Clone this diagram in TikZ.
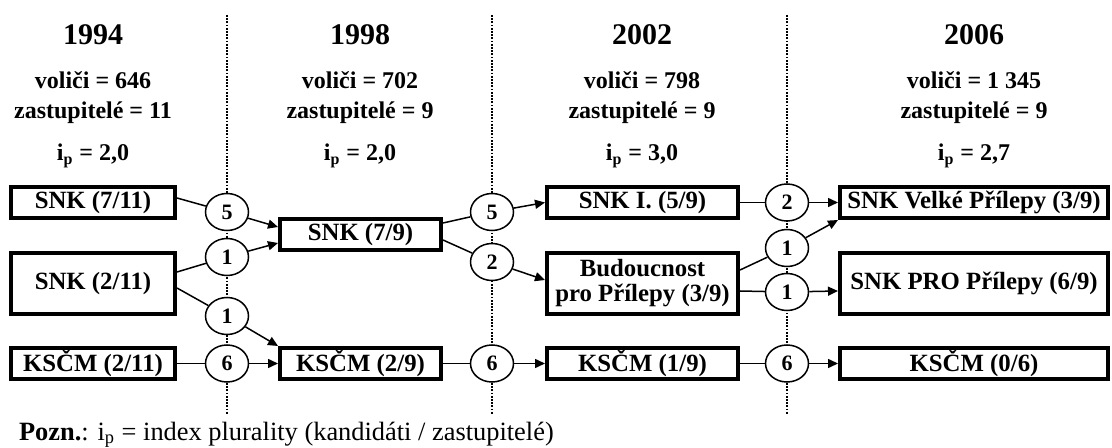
\documentclass[tikz,border=0pt]{standalone}
\usepackage{fontspec}
\setmainfont{Liberation Serif}
\usetikzlibrary{arrows.meta}
\usetikzlibrary{shapes.geometric}
\tikzset{>={Triangle[length=5pt,width=4.5pt]}}

\begin{document}
\begin{tikzpicture}[x=.5pt, y=-.5pt,
    party/.style={draw, line width=2pt, align=center, inner sep=0pt,
      minimum height=15.5pt, font=\fontsize{12.4}{12.5}\selectfont\bfseries},
    flow/.style={draw, ellipse, line width=.75pt, fill=white, inner sep=0pt,
      minimum width=21.5pt, minimum height=18.5pt, font=\fontsize{11}{12}\selectfont\bfseries},
    head/.style={anchor=base, font=\fontsize{12}{14}\selectfont\bfseries},
    link/.style={line width=.75pt}]
  \useasboundingbox (0,0) rectangle (1112,448);
  % separators
  \foreach \x in {227,492,787}
    \draw[line width=.75pt, dash pattern=on .9pt off .7pt] (\x,15) -- (\x,414);
  % headers
  \foreach \x/\yr/\vol/\zas/\ip in {93/1994/646/11/{2,0}, 360/1998/702/9/{2,0},
      642/2002/798/9/{3,0}, 974/2006/{1 345}/9/{2,7}} {
    \node[head, font=\fontsize{15}{17}\selectfont\bfseries] (yr\yr) at (\x,45) {\yr};
    \node[head] (vol\yr) at (\x,89) {voliči = \vol};
    \node[head] (zas\yr) at (\x,119) {zastupitelé = \zas};
    \node[head] (ip\yr) at (\x,161) {i\textsubscript{p} = \ip};
  }
  % parties
  \node[party, minimum width=82pt] (a1) at (93,202.5) {SNK (7/11)};
  \node[party, minimum width=82pt, minimum height=30.5pt] (a2) at (93,283.5) {SNK (2/11)};
  \node[party, minimum width=82pt] (a3) at (93,363.5) {KSČM (2/11)};
  \node[party, minimum width=80.5pt] (b1) at (360.5,235) {SNK (7/9)};
  \node[party, minimum width=80.5pt] (b3) at (360.5,363.5) {KSČM (2/9)};
  \node[party, minimum width=95.5pt] (c1) at (642.5,202.5) {SNK I. (5/9)};
  \node[party, minimum width=95.5pt, minimum height=30.5pt] (c2) at (642.5,283.5) {Budoucnost\\pro Přílepy (3/9)};
  \node[party, minimum width=95.5pt] (c3) at (642.5,363.5) {KSČM (1/9)};
  \node[party, minimum width=134pt] (d1) at (974,202.5) {SNK Velké Přílepy (3/9)};
  \node[party, minimum width=134pt, minimum height=30.5pt] (d2) at (974,283.5) {SNK PRO Přílepy (6/9)};
  \node[party, minimum width=134pt] (d3) at (974,363.5) {KSČM (0/6)};
  % transfers
  \node[flow] (ab5) at (227,212) {5};
  \node[flow] (ab1u) at (227,257) {1};
  \node[flow] (ab1d) at (227,316) {1};
  \node[flow] (ab6) at (227,363.5) {6};
  \node[flow] (bc5) at (492,212) {5};
  \node[flow] (bc2) at (492,262) {2};
  \node[flow] (bc6) at (492,363.5) {6};
  \node[flow] (cd2) at (787,202.5) {2};
  \node[flow] (cd1u) at (787,248) {1};
  \node[flow] (cd1d) at (787,292) {1};
  \node[flow] (cd6) at (787,363.5) {6};
  % links
  \draw[link] ([yshift=2.25pt]a1.east) -- (ab5);
  \draw[link,->] (ab5) -- ([yshift=4pt]b1.west);
  \draw[link] ([yshift=5.75pt]a2.east) -- (ab1u);
  \draw[link,->] (ab1u) -- ([yshift=-4pt]b1.west);
  \draw[link] ([yshift=-2.25pt]a2.east) -- (ab1d);
  \draw[link,->] (ab1d) -- (b3.north west);
  \draw[link] (a3.east) -- (ab6);
  \draw[link,->] (ab6) -- (b3.west);
  \draw[link] ([yshift=6pt]b1.east) -- (bc5);
  \draw[link,->] (bc5) -- (c1.west);
  \draw[link] ([yshift=-2.5pt]b1.east) -- (bc2);
  \draw[link,->] (bc2) -- ([yshift=1.75pt]c2.west);
  \draw[link] (b3.east) -- (bc6);
  \draw[link,->] (bc6) -- (c3.west);
  \draw[link] (c1.east) -- (cd2);
  \draw[link,->] (cd2) -- (d1.west);
  \draw[link] ([yshift=6.75pt]c2.east) -- (cd1u);
  \draw[link,->] (cd1u) -- (d1.south west);
  \draw[link] ([yshift=-3.75pt]c2.east) -- (cd1d);
  \draw[link,->] (cd1d) -- ([yshift=-3.75pt]d2.west);
  \draw[link] (c3.east) -- (cd6);
  \draw[link,->] (cd6) -- (d3.west);
  % note
  \node[anchor=base west, font=\fontsize{13.2}{15}\selectfont] (note) at (12,440)
    {\textbf{Pozn.}: i\textsubscript{p} = index plurality (kandidáti / zastupitelé)};
\end{tikzpicture}
\end{document}
